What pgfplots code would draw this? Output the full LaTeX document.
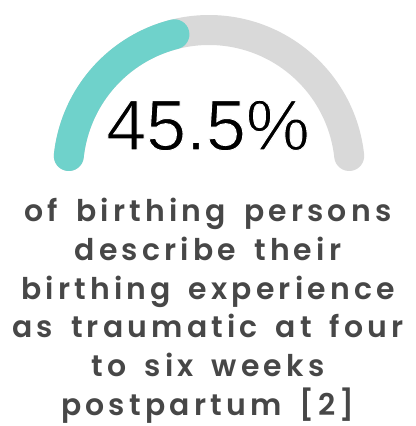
\documentclass[border=0pt]{standalone}
\usepackage{pgfplots}
\pgfplotsset{compat=1.18}
\usepackage{fontspec}
\setmainfont{Liberation Sans}
\newfontfamily\capfont[LetterSpace=14,WordSpace=1.6]{Poppins SemiBold}
\definecolor{gaugeteal}{HTML}{6FD2CB}
\definecolor{gaugegray}{HTML}{D9D9D9}
\definecolor{txtgray}{HTML}{474747}
\def\pct{45.5}
\begin{document}
\begin{tikzpicture}[captxt/.style={anchor=base, font=\capfont\fontsize{30}{30}\selectfont, text=txtgray, inner sep=0pt}]
\begin{axis}[
  width=416bp, height=426bp, scale only axis,
  xmin=-209, xmax=207, ymin=-255, ymax=171,
  hide axis, clip=false,
]
\path (axis cs:-209,-255) rectangle (axis cs:207,171);
% background track (0-100%)
\addplot[gaugegray, line width=30bp, line cap=round, data cs=polar,
  domain=173.9:6.1, samples=120] ({x},{141});
% value arc
\addplot[gaugeteal, line width=30bp, line cap=round, data cs=polar,
  domain=173.9:{180-1.8*\pct+6.1}, samples=80] ({x},{141});
\node[anchor=base, font=\fontsize{72}{72}\selectfont, text=black, inner sep=0pt]
  at (axis cs:-1,21) {\special{pdf:literal direct 2 Tr 1.0 w 1 1 1 RG}45.5\%\special{pdf:literal direct 0 Tr}};
\node[captxt] at (axis cs:-1,-51) {of birthing persons};
\node[captxt] at (axis cs:-1,-90) {describe their};
\node[captxt] at (axis cs:-1,-129) {birthing experience};
\node[captxt] at (axis cs:-1,-167) {as traumatic at four};
\node[captxt] at (axis cs:-1,-206) {to six weeks};
\node[captxt] at (axis cs:-1,-244) {postpartum [2]};
\end{axis}
\end{tikzpicture}
\end{document}
